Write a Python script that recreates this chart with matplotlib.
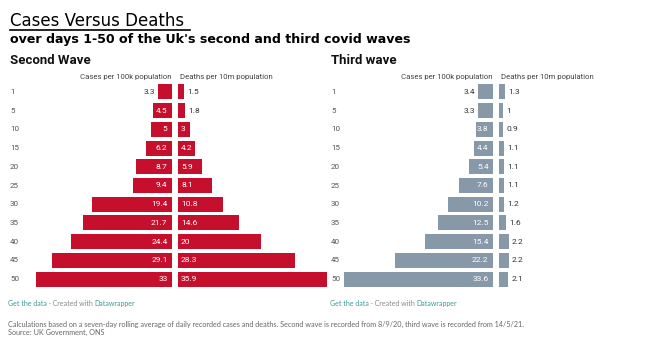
import matplotlib
matplotlib.use("Agg")
import matplotlib.pyplot as plt

days = ["1", "5", "10", "15", "20", "25", "30", "35", "40", "45", "50"]
second_cases = [3.3, 4.5, 5, 6.2, 8.7, 9.4, 19.4, 21.7, 24.4, 29.1, 33]
second_deaths = [1.5, 1.8, 3, 4.2, 5.9, 8.1, 10.8, 14.6, 20, 28.3, 35.9]
third_cases = [3.4, 3.3, 3.8, 4.4, 5.4, 7.6, 10.2, 12.5, 15.4, 22.2, 33.6]
third_deaths = [1.3, 1, 0.9, 1.1, 1.1, 1.1, 1.2, 1.6, 2.2, 2.2, 2.1]

W, H = 656, 337
fig = plt.figure(figsize=(W / 100, H / 100), dpi=100)
fig.patch.set_facecolor("white")

RED = "#c60f2c"
GREY = "#8799a9"
LAB = ["Roboto", "DejaVu Sans"]
FOOT = ["Lato", "DejaVu Sans"]

def ax_px(x0, x1, y0, y1):
    return fig.add_axes([x0 / W, 1 - y1 / H, (x1 - x0) / W, (y1 - y0) / H])

ytop, ybot = 82.6, 288.4

def panel(values, x0, x1, xmax, color, side, header):
    ax = ax_px(x0, x1, ytop, ybot)
    ys = list(range(len(values)))
    ax.barh(ys, values, height=0.8, color=color, edgecolor="none")
    ax.set_ylim(len(values) - 0.5, -0.5)
    pxu = (x1 - x0) / xmax
    if side == "left":
        ax.set_xlim(xmax, 0)
    else:
        ax.set_xlim(0, xmax)
    ax.axis("off")
    for y, v in zip(ys, values):
        lab = f"{v:g}"
        inside = v * pxu >= len(lab) * 4 + 4
        if side == "left":
            if inside:
                ax.annotate(lab, (0, y), xytext=(-4.5, 0), textcoords="offset pixels",
                            ha="right", va="center", color="white", fontsize=6, family=LAB)
            else:
                ax.annotate(lab, (v, y), xytext=(-3, 0), textcoords="offset pixels",
                            ha="right", va="center", color="#333333", fontsize=6, family=LAB)
        else:
            if inside:
                ax.annotate(lab, (0, y), xytext=(3, 0), textcoords="offset pixels",
                            ha="left", va="center", color="white", fontsize=6, family=LAB)
            else:
                ax.annotate(lab, (v, y), xytext=(3, 0), textcoords="offset pixels",
                            ha="left", va="center", color="#333333", fontsize=6, family=LAB)
    if side == "left":
        fig.text(x1 / W, 1 - 77 / H, header, ha="right", va="center",
                 fontsize=5.6, color="#444444", family=LAB)
    else:
        fig.text((x0 + 2) / W, 1 - 77 / H, header, ha="left", va="center",
                 fontsize=5.6, color="#444444", family=LAB)
    return ax

# Second wave
panel(second_cases, 28, 172, 144 / 4.12, RED, "left", "Cases per 100k population")
panel(second_deaths, 178, 327, 35.9, RED, "right", "Deaths per 10m population")
# Third wave
panel(third_cases, 340, 493, 153 / 4.43, GREY, "left", "Cases per 100k population")
panel(third_deaths, 499, 650, 151 / 4.45, GREY, "right", "Deaths per 10m population")

# row labels
for i, d in enumerate(days):
    yc = ytop + (i + 0.5) * (ybot - ytop) / len(days)
    fig.text(10 / W, 1 - yc / H, d, ha="left", va="center", fontsize=5.8,
             color="#555555", family=LAB)
    fig.text(331 / W, 1 - yc / H, d, ha="left", va="center", fontsize=5.8,
             color="#555555", family=LAB)

# titles
fig.text(10 / W, 1 - 21 / H, "Cases Versus Deaths", ha="left", va="center",
         fontsize=12, color="black", family="DejaVu Sans")
fig.add_artist(plt.Line2D([10 / W, 190 / W], [1 - 30 / H, 1 - 30 / H], color="black", lw=1.2))
fig.text(10 / W, 1 - 40 / H, "over days 1-50 of the Uk's second and third covid waves",
         ha="left", va="center", fontsize=9.1, fontweight="bold", color="black",
         family="DejaVu Sans")
fig.text(10 / W, 1 - 60 / H, "Second Wave", ha="left", va="center", fontsize=9.5,
         fontweight="bold", color="#111111", family=LAB)
fig.text(331 / W, 1 - 60 / H, "Third wave", ha="left", va="center", fontsize=9.5,
         fontweight="bold", color="#111111", family=LAB)

# footers
fig.canvas.draw()
rend = fig.canvas.get_renderer()
for x in (8, 330):
    xpos = x
    for part, col, gap in (("Get the data", "#3a9a9a", 2), ("\u00b7 Created with", "#888888", 2),
                           ("Datawrapper", "#3a9a9a", 0)):
        t = fig.text(xpos / W, 1 - 306 / H, part, ha="left", va="baseline",
                     fontsize=5, color=col, family=FOOT)
        xpos = t.get_window_extent(renderer=rend).x1 + gap

fig.text(8 / W, 1 - 324 / H,
         "Calculations based on a seven-day rolling average of daily recorded cases and deaths. "
         "Second wave is recorded from 8/9/20, third wave is recorded from 14/5/21.",
         ha="left", va="center", fontsize=5.25, color="#666666", family=FOOT)
fig.text(8 / W, 1 - 332 / H, "Source: UK Government, ONS", ha="left", va="center",
         fontsize=5.25, color="#666666", family=FOOT)

fig.savefig("out.png", dpi=100, facecolor="white")
